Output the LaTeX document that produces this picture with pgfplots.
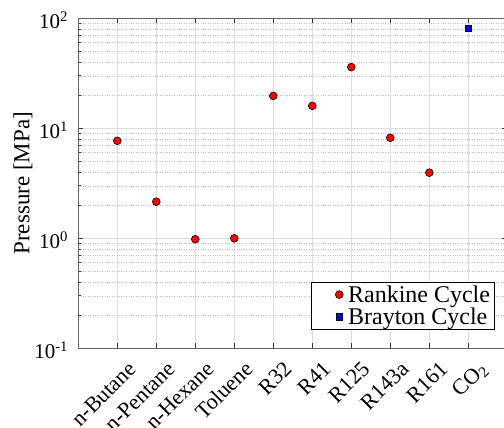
\documentclass[border=0pt]{standalone}
\usepackage{pgfplots}
\pgfplotsset{compat=1.18}
\usepackage{fontspec}
\setmainfont{Liberation Serif}
\begin{document}
\begin{tikzpicture}
\begin{semilogyaxis}[
    scale only axis,
    width=429pt, height=330pt,
    xmin=0, xmax=11, ymin=0.1, ymax=100,
    xtick={1,...,10},
    xticklabels={n-Butane,n-Pentane,n-Hexane,Toluene,R32,R41,R125,R143a,R161,CO\textsubscript{2}},
    ytick={0.1,1,10,100},
    yticklabels={10\textsuperscript{-1},10\textsuperscript{0},10\textsuperscript{1},10\textsuperscript{2}},
    minor ytick={0.2,0.3,0.4,0.5,0.6,0.7,0.8,0.9,2,3,4,5,6,7,8,9,20,30,40,50,60,70,80,90},
    tick label style={font=\fontsize{21}{24}\selectfont},
    xticklabel style={font=\fontsize{22}{25}\selectfont, xshift=20pt, yshift=-22pt, rotate=45, anchor=base east, inner sep=0pt},
    yticklabel style={anchor=east, inner sep=0pt, xshift=-10pt, yshift=-2pt},
    ylabel={Pressure [MPa]},
    ylabel style={font=\fontsize{23}{26}\selectfont, at={(axis description cs:-0.129,0.5)}, anchor=center},
    xmajorgrids, ymajorgrids, yminorgrids,
    major grid style={color=black!13, line width=0.7pt},
    minor grid style={dotted, color=black!25, line width=0.5pt},
    axis line style={color=black!60, line width=0.8pt},
    tick style={color=black!80, line width=0.7pt},
    major tick length=5pt, minor tick length=3pt,
    tick align=inside,
    legend style={at={(0.971,0.058)}, anchor=south east, draw=black, line width=0.6pt,
        font=\fontsize{24}{27}\selectfont, inner xsep=3pt, inner ysep=1pt,
        nodes={inner xsep=1.5pt, inner ysep=2pt}},
    legend cell align=left,
    legend image code/.code={\draw[#1] plot coordinates {(25pt,0pt)}; \path (0pt,0pt) (32pt,0pt);},
]
\addplot[only marks, mark=*, mark size=3.9pt, mark options={fill=red, draw=black, line width=0.6pt}]
    coordinates {
        (1,7.7)
        (2,2.15)
        (3,0.98)
        (4,1.0)
        (5,19.7)
        (6,16.0)
        (7,36.0)
        (8,8.2)
        (9,3.95)
    };
\addlegendentry{Rankine Cycle}
\addplot[only marks, mark=square*, mark size=3.3pt, mark options={fill=blue, draw=black, line width=0.6pt}]
    coordinates {
        (10,81)
    };
\addlegendentry{Brayton Cycle}
\end{semilogyaxis}
\pgfresetboundingbox
\path[use as bounding box] (-78.3pt,-79pt) rectangle (425.7pt,348.3pt);
\end{tikzpicture}
\end{document}
